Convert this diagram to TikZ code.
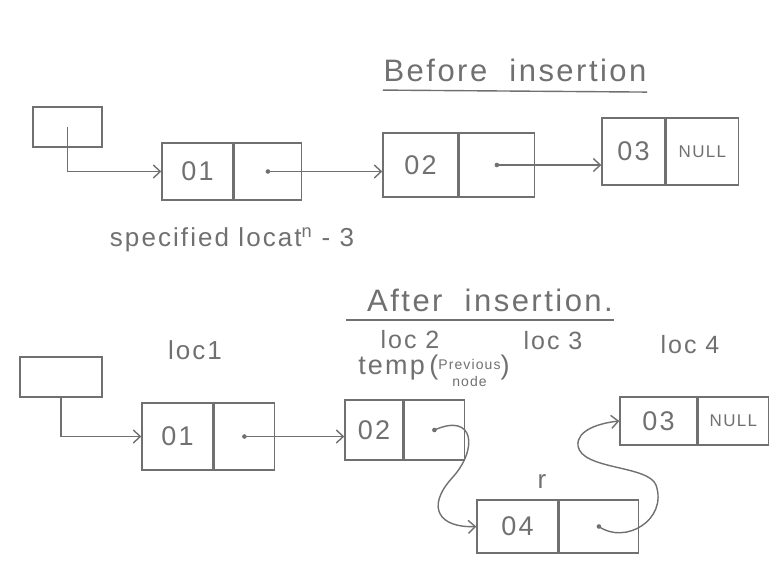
\documentclass[tikz,border=0pt]{standalone}
\usepackage{fontspec}
\setmainfont{Liberation Sans}[LetterSpace=8]
\usetikzlibrary{arrows.meta}
\definecolor{lapiz}{RGB}{112,112,112}
\tikzset{
  celda/.style={draw, inner sep=0pt, font=\fontsize{27}{28}\selectfont},
  enlace/.style={celda, anchor=west},
  rotulo/.style={font=\fontsize{#1}{#1}\selectfont, inner sep=0pt},
  punto/.style={radius=2.3pt}
}
\begin{document}
\begin{tikzpicture}[x=1pt, y=-1pt, color=lapiz, line width=1.4pt,
    >={Straight Barb[length=7pt,width=13pt]}]
    \useasboundingbox (0,0) rectangle (784,571);

    % Antes de la insercion
    \node[rotulo=31] (tit1) at (515,70) {Before\ \ insertion};
    \draw ([yshift=-8pt]tit1.south west) -- ([yshift=-10pt]tit1.south east);

    \node[celda, minimum width=69pt, minimum height=40pt] (cab1) at (67.5,127) {};
    \node[celda, minimum width=71pt, minimum height=57pt] (a1) at (197.5,171.5) {01};
    \node[enlace, minimum width=67pt, minimum height=57pt] (b1) at (a1.east) {};
    \node[celda, minimum width=75pt, minimum height=64pt] (a2) at (420.5,165) {02};
    \node[enlace, minimum width=75pt, minimum height=64pt] (b2) at (a2.east) {};
    \node[celda, minimum width=63pt, minimum height=67pt] (a3) at (633.5,151.5) {03};
    \node[enlace, minimum width=72pt, minimum height=67pt, font=\fontsize{17}{18}\selectfont] (b3) at (a3.east) {NULL};

    \draw[->] (cab1.center) |- (a1.west);
    \fill (b1.center) circle[punto];
    \draw[->] (b1.center) -- (b1.center -| a2.west);
    \fill (b2.center) circle[punto];
    \draw[->] (b2.center) -- (b2.center -| a3.west);

    \node[rotulo=26] (lugar) at (232,240) {specified\ locat\textsuperscript{n}\ - 3};

    % Despues de la insercion
    \node[rotulo=31] (tit2) at (490,300) {After\ \ insertion.};
    \draw ([xshift=-20pt,yshift=-8pt]tit2.south west) -- ([yshift=-8pt]tit2.south east);

    \node[rotulo=26] (loc1) at (195,350) {loc1};
    \node[rotulo=25] (loc2) at (410,340) {loc 2};
    \node[rotulo=25] (loc3) at (553,341) {loc 3};
    \node[rotulo=25] (loc4) at (690,345) {loc 4};
    \node[rotulo=27] (temp) at (434,373)
      {temp\,(\raisebox{-4pt}{\fontsize{14}{17}\selectfont
        \begin{tabular}{@{}c@{}}Previous\\node\end{tabular}})};
    \node[rotulo=26] (r) at (542,481) {r};

    \node[celda, minimum width=82pt, minimum height=40pt] (cab2) at (61,377) {};
    \node[celda, minimum width=71pt, minimum height=67pt] (c1) at (177.5,436.5) {01};
    \node[enlace, minimum width=60pt, minimum height=67pt] (d1) at (c1.east) {};
    \node[celda, minimum width=58pt, minimum height=60pt] (c2) at (374,430) {02};
    \node[enlace, minimum width=60pt, minimum height=60pt] (d2) at (c2.east) {};
    \node[celda, minimum width=81pt, minimum height=53pt] (c4) at (517.5,526.5) {04};
    \node[enlace, minimum width=79pt, minimum height=53pt] (d4) at (c4.east) {};
    \node[celda, minimum width=77pt, minimum height=48pt] (c3) at (658.5,421) {03};
    \node[enlace, minimum width=70pt, minimum height=48pt, font=\fontsize{17}{18}\selectfont] (d3) at (c3.east) {NULL};

    \draw[->] (cab2.south) |- (c1.west);
    \fill (d1.center) circle[punto];
    \draw[->] (d1.center) -- (d1.center -| c2.west);
    \fill (d2.center) circle[punto];
    \draw[->] (d2.center) .. controls (475,412) and (478,450) .. (452,478)
      .. controls (425,508) and (440,528) .. (c4.west);
    \fill (d4.center) circle[punto];
    \draw[->] (d4.center) .. controls (625,545) and (668,520) .. (656,485)
      .. controls (648,465) and (582,470) .. (578,446)
      .. controls (576,430) and (600,423) .. (c3.west);
\end{tikzpicture}
\end{document}
